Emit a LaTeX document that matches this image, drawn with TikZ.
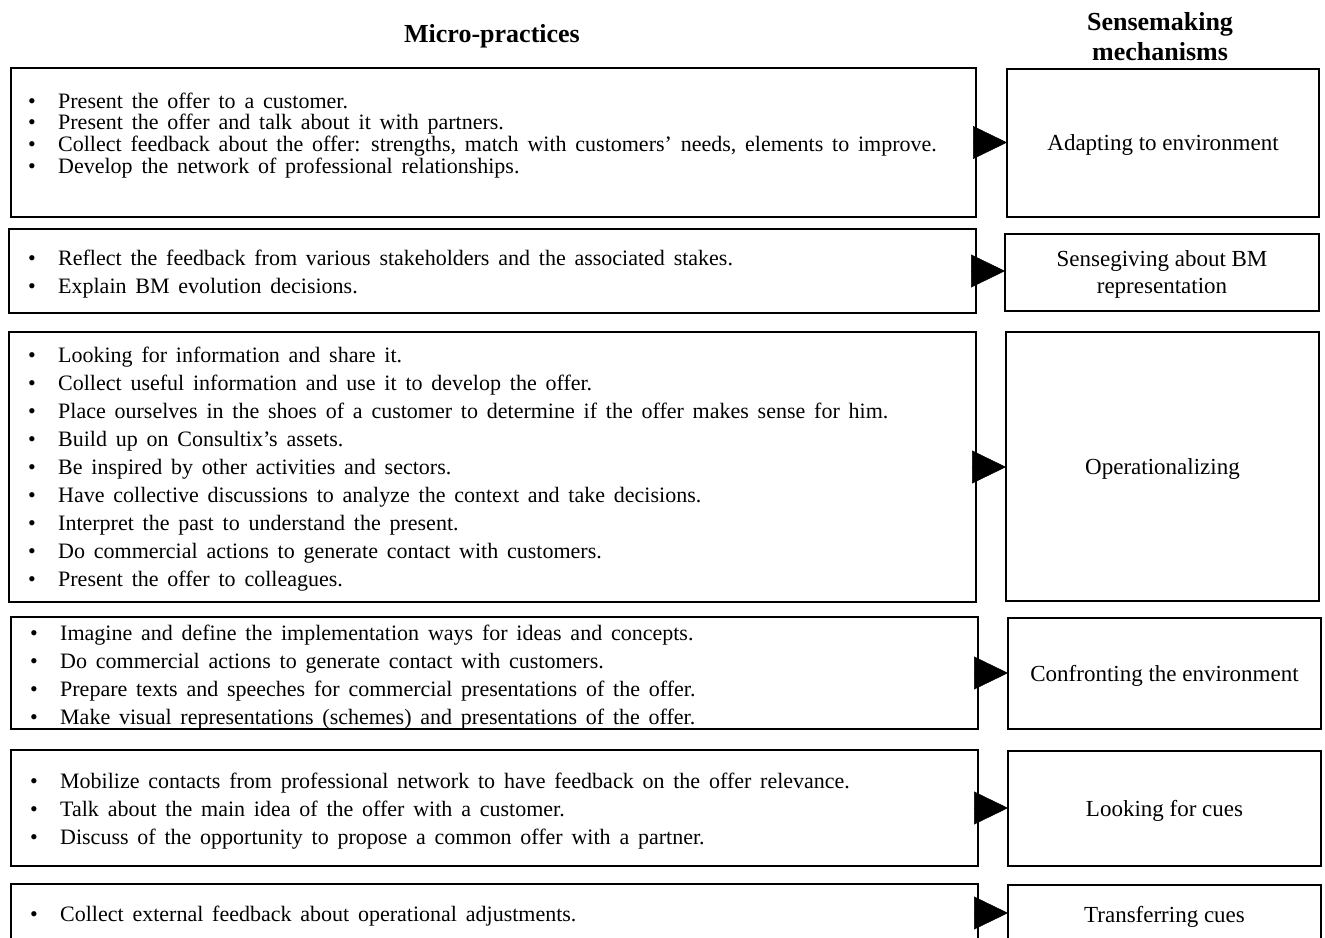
\documentclass[tikz,border=0pt]{standalone}
\usepackage{fontspec}
\setmainfont{Liberation Serif}
\newfontfamily\mpfont[WordSpace=1.6]{Liberation Serif}
\usetikzlibrary{arrows.meta}
\tikzset{%
  % Specifications for style of nodes:
           box/.style = {rectangle, draw=black, line width=1.6pt,
                         inner sep=0pt, outer sep=0pt},
     mechanism/.style = {box, align=center, text depth=0pt,
                         font=\fontsize{23}{27}\selectfont},
     practices/.style = {anchor=base west, inner sep=0pt,
                         font=\mpfont\fontsize{22}{28}\selectfont},
        header/.style = {anchor=base, inner sep=0pt,
                         font=\fontsize{26}{30}\selectfont\bfseries},
          link/.style = {-{Triangle[length=34pt,width=33pt]}, line width=0.5pt},
}
\newcommand{\bulletlist}[1]{\begin{tabular}[t]{@{}p{30pt}@{}l@{}}#1\end{tabular}}

\begin{document}
\begin{tikzpicture}[x=1pt, y=-1pt]
  \clip (0,0) rectangle (1325,937);
  \fill[white] (0,0) rectangle (1325,937);
  % Column headers
  \node (hmp) [header] at (492,42) {Micro-practices};
  \node (hsm) [header] at (1160,30) {\begin{tabular}[t]{@{}c@{}}Sensemaking\\mechanisms\end{tabular}};
  % Boxes of micro-practices (left)
  \node (mp1) [box, minimum width=965pt, minimum height=149pt] at (493.5,142.5) {};
  \node (mp2) [box, minimum width=967pt, minimum height=84pt]  at (492.5,271)   {};
  \node (mp3) [box, minimum width=967pt, minimum height=270pt] at (492.5,467)   {};
  \node (mp4) [box, minimum width=967pt, minimum height=112pt] at (494.5,673)   {};
  \node (mp5) [box, minimum width=967pt, minimum height=116pt] at (494.5,808)   {};
  \node (mp6) [box, minimum width=967pt, minimum height=58pt]  at (494.5,913)   {};
  % Lists inside them
  \node (mp1list) [practices, font=\mpfont\fontsize{22}{21.5}\selectfont] at (28,108) {\bulletlist{%
    \textbullet & Present the offer to a customer.\\
    \textbullet & Present the offer and talk about it with partners.\\
    \textbullet & Collect feedback about the offer: strengths, match with customers’ needs, elements to improve.\\
    \textbullet & Develop the network of professional relationships.}};
  \node (mp2list) [practices] at (28,265) {\bulletlist{%
    \textbullet & Reflect the feedback from various stakeholders and the associated stakes.\\
    \textbullet & Explain BM evolution decisions.}};
  \node (mp3list) [practices] at (28,362) {\bulletlist{%
    \textbullet & Looking for information and share it.\\
    \textbullet & Collect useful information and use it to develop the offer.\\
    \textbullet & Place ourselves in the shoes of a customer to determine if the offer makes sense for him.\\
    \textbullet & Build up on Consultix’s assets.\\
    \textbullet & Be inspired by other activities and sectors.\\
    \textbullet & Have collective discussions to analyze the context and take decisions.\\
    \textbullet & Interpret the past to understand the present.\\
    \textbullet & Do commercial actions to generate contact with customers.\\
    \textbullet & Present the offer to colleagues.}};
  \node (mp4list) [practices] at (30,640) {\bulletlist{%
    \textbullet & Imagine and define the implementation ways for ideas and concepts.\\
    \textbullet & Do commercial actions to generate contact with customers.\\
    \textbullet & Prepare texts and speeches for commercial presentations of the offer.\\
    \textbullet & Make visual representations (schemes) and presentations of the offer.}};
  \node (mp5list) [practices] at (30,788) {\bulletlist{%
    \textbullet & Mobilize contacts from professional network to have feedback on the offer relevance.\\
    \textbullet & Talk about the main idea of the offer with a customer.\\
    \textbullet & Discuss of the opportunity to propose a common offer with a partner.}};
  \node (mp6list) [practices] at (30,921) {\bulletlist{%
    \textbullet & Collect external feedback about operational adjustments.}};
  % Sensemaking mechanisms (right)
  \node (sm1) [mechanism, minimum width=312pt, minimum height=148pt] at (1163,143)    {Adapting to environment};
  \node (sm2) [mechanism, minimum width=314pt, minimum height=77pt]  at (1162,272.5)  {Sensegiving about BM\\representation};
  \node (sm3) [mechanism, minimum width=313pt, minimum height=269pt] at (1162.5,466.5) {Operationalizing};
  \node (sm4) [mechanism, minimum width=313pt, minimum height=111pt] at (1164.5,673.5) {Confronting the environment};
  \node (sm5) [mechanism, minimum width=313pt, minimum height=115pt] at (1164.5,808.5) {Looking for cues};
  \node (sm6) [mechanism, minimum width=313pt, minimum height=58pt]  at (1164.5,914)   {Transferring cues};
  % Arrows between the two columns (kept horizontal)
  \draw[link] (mp1.east) -- (mp1.east -| sm1.west);
  \draw[link] (mp2.east) -- (mp2.east -| sm2.west);
  \draw[link] (mp3.east) -- (mp3.east -| sm3.west);
  \draw[link] (mp4.east) -- (mp4.east -| sm4.west);
  \draw[link] (mp5.east) -- (mp5.east -| sm5.west);
  \draw[link] (mp6.east) -- (mp6.east -| sm6.west);
\end{tikzpicture}
\end{document}
